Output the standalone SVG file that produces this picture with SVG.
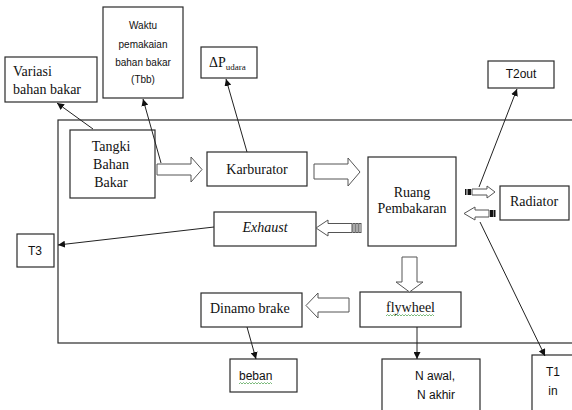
<svg xmlns="http://www.w3.org/2000/svg" width="572" height="410" viewBox="0 0 572 410">
<defs>
<marker id="ah" viewBox="0 0 10 10" refX="10" refY="5" markerWidth="7" markerHeight="7" orient="auto" markerUnits="userSpaceOnUse">
<path d="M0,0 L10,5 L0,10 z" fill="#111"/>
</marker>
<style>
.box{fill:#fff;stroke:#2a2a2a;stroke-width:1.2}
.frame{fill:none;stroke:#2a2a2a;stroke-width:1.2}
.ser{font-family:"Liberation Serif","Times New Roman",serif;font-size:14px;fill:#111}
.san{font-family:"Liberation Sans",Arial,sans-serif;font-size:12px;fill:#111}
.sm{font-size:10px}
.ln{stroke:#222;stroke-width:1;fill:none;marker-end:url(#ah)}
.ha{fill:#fff;stroke:#555;stroke-width:1}
.st{fill:#111}
.wav{fill:none;stroke:#5aa85a;stroke-width:0.8}
</style>
</defs>
<rect width="572" height="410" fill="#fff"/>
<rect class="frame" x="58" y="120" width="530" height="223"/>

<g id="variasi"><rect class="box" x="5" y="57" width="92" height="45"/>
<text class="ser" x="13" y="76">Variasi</text><text class="ser" x="13" y="94">bahan bakar</text></g>

<g id="waktu"><rect class="box" x="103" y="7" width="80" height="91"/>
<text class="san sm" x="143" y="29" text-anchor="middle">Waktu</text>
<text class="san sm" x="143" y="48" text-anchor="middle">pemakaian</text>
<text class="san sm" x="143" y="66" text-anchor="middle">bahan bakar</text>
<text class="san sm" x="143" y="83" text-anchor="middle">(Tbb)</text></g>

<g id="dp"><rect class="box" x="201" y="47" width="56" height="31"/>
<text class="ser" x="209" y="67">ΔP<tspan font-size="9" dy="3">udara</tspan></text></g>

<g id="t2out"><rect class="box" x="488" y="61" width="66" height="27"/>
<text class="san" x="521" y="78" text-anchor="middle">T2out</text></g>

<g id="tangki"><rect class="box" x="70" y="130" width="85" height="68"/>
<text class="ser" x="111" y="151" text-anchor="middle">Tangki</text>
<text class="ser" x="111" y="169" text-anchor="middle">Bahan</text>
<text class="ser" x="111" y="187" text-anchor="middle">Bakar</text></g>

<g id="karburator"><rect class="box" x="207" y="152" width="100" height="34"/>
<text class="ser" x="257" y="174" text-anchor="middle">Karburator</text></g>

<g id="ruang"><rect class="box" x="368" y="157" width="88" height="89"/>
<text class="ser" x="412" y="197" text-anchor="middle">Ruang</text>
<text class="ser" x="412" y="213" text-anchor="middle">Pembakaran</text></g>

<g id="radiator"><rect class="box" x="500" y="186" width="69" height="34"/>
<text class="ser" x="534" y="206" text-anchor="middle">Radiator</text></g>

<g id="exhaust"><rect class="box" x="214" y="212" width="102" height="34"/>
<text class="ser" x="265" y="232" text-anchor="middle" font-style="italic">Exhaust</text></g>

<g id="t3"><rect class="box" x="17" y="234" width="37" height="33"/>
<text class="san" x="35" y="255" text-anchor="middle">T3</text></g>

<g id="flywheel"><rect class="box" x="360" y="292" width="101" height="35"/>
<text class="ser" x="386" y="312">flywheel</text>
<path class="wav" d="M386,316 l1.5,-1.5 l1.5,1.5 l1.5,-1.5 l1.5,1.5 l1.5,-1.5 l1.5,1.5 l1.5,-1.5 l1.5,1.5 l1.5,-1.5 l1.5,1.5 l1.5,-1.5 l1.5,1.5 l1.5,-1.5 l1.5,1.5 l1.5,-1.5 l1.5,1.5 l1.5,-1.5 l1.5,1.5 l1.5,-1.5 l1.5,1.5 l1.5,-1.5 l1.5,1.5 l1.5,-1.5 l1.5,1.5 l1.5,-1.5 l1.5,1.5 l1.5,-1.5 l1.5,1.5 l1.5,-1.5 l1.5,1.5 l1.5,-1.5 l1.5,1.5"/></g>

<g id="dinamo"><rect class="box" x="201" y="293" width="101" height="34"/>
<text class="ser" x="210" y="313">Dinamo brake</text></g>

<g id="beban"><rect class="box" x="230" y="359" width="67" height="33"/>
<text class="san" x="239" y="380">beban</text>
<path class="wav" d="M239,384 l1.5,-1.5 l1.5,1.5 l1.5,-1.5 l1.5,1.5 l1.5,-1.5 l1.5,1.5 l1.5,-1.5 l1.5,1.5 l1.5,-1.5 l1.5,1.5 l1.5,-1.5 l1.5,1.5 l1.5,-1.5 l1.5,1.5 l1.5,-1.5 l1.5,1.5 l1.5,-1.5 l1.5,1.5 l1.5,-1.5 l1.5,1.5 l1.5,-1.5 l1.5,1.5"/></g>

<g id="nawal"><rect class="box" x="382" y="359" width="98" height="60"/>
<text class="san" x="435" y="380" text-anchor="middle">N awal,</text>
<text class="san" x="436" y="399" text-anchor="middle">N akhir</text></g>

<g id="t1"><rect class="box" x="532" y="355" width="50" height="60"/>
<text class="san" x="553" y="376" text-anchor="middle">T1</text>
<text class="san" x="553" y="395" text-anchor="middle">in</text></g>

<g id="connectors">
<line class="ln" x1="93" y1="129" x2="57" y2="103"/>
<line class="ln" x1="161" y1="163" x2="143" y2="99"/>
<line class="ln" x1="247" y1="152" x2="226" y2="79"/>
<line class="ln" x1="479" y1="187" x2="517" y2="89"/>
<line class="ln" x1="480" y1="222" x2="545" y2="356"/>
<line class="ln" x1="214" y1="227" x2="58" y2="245"/>
<line class="ln" x1="247" y1="327" x2="256" y2="359"/>
<line class="ln" x1="417" y1="327" x2="417" y2="359"/>

<polygon class="ha" points="157,164 191,164 191,157 202,169.5 191,182 191,175 157,175"/>
<polygon class="ha" points="314,164 348,164 348,158 360,172 348,186 348,179 314,179"/>
<polygon class="ha" points="472,189 487,189 487,186 495,192 487,198 487,195 472,195"/>
<rect class="st" x="465" y="189" width="1.5" height="6"/>
<rect class="st" x="467.5" y="189" width="3.5" height="6"/>
<polygon class="ha" points="489,210 475,210 475,207 464,213.5 475,220 475,217 489,217"/>
<rect class="st" x="490" y="210" width="3.5" height="7"/>
<rect class="st" x="494" y="210" width="1.5" height="7"/>
<polygon class="ha" points="352,223.5 328,223.5 328,220 316,228 328,236 328,232.5 352,232.5"/>
<rect class="ha" x="353" y="223.5" width="2" height="9"/>
<rect class="ha" x="356" y="223.5" width="2" height="9"/>
<rect class="ha" x="359" y="223.5" width="2" height="9"/>
<polygon class="ha" points="349,298 318,298 318,293 306,305.5 318,318 318,312 349,312"/>
<polygon class="ha" points="402,257 417,257 417,282 423,282 409.5,292 396,282 402,282"/>
</g>
</svg>
